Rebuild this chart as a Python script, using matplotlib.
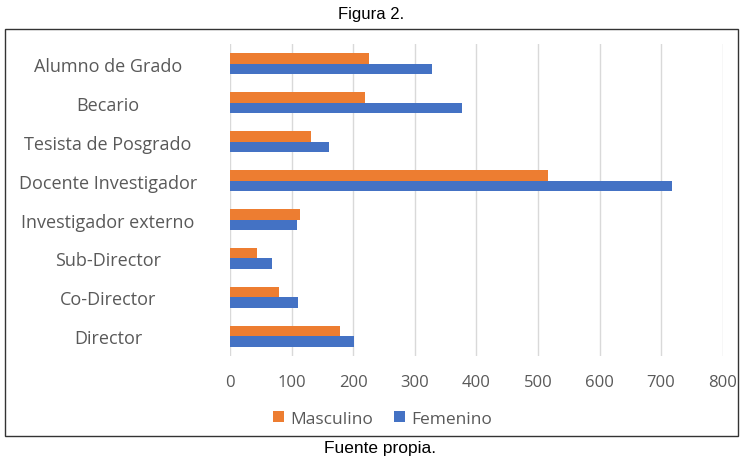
import numpy as np
import matplotlib
matplotlib.use('Agg')
import matplotlib.pyplot as plt
from matplotlib.patches import Rectangle

plt.rcParams['font.family'] = ['Open Sans', 'DejaVu Sans']

# datos por rol (de abajo hacia arriba)
categorias = ['Director', 'Co-Director', 'Sub-Director', 'Investigador externo',
              'Docente Investigador', 'Tesista de Posgrado', 'Becario', 'Alumno de Grado']
masculino = [179, 80, 43, 114, 517, 132, 219, 225]
femenino = [201, 110, 68, 108, 718, 160, 377, 328]
ticks_x = [0, 100, 200, 300, 400, 500, 600, 700, 800]

gris = '#595959'
fig = plt.figure(figsize=(7.42, 4.60), dpi=100)
ax = fig.add_axes([0.31, 0.224, 0.664, 0.678])

y = np.arange(len(categorias))
h = 0.26
ax.barh(y + h / 2, masculino, height=h, color='#ED7D31', label='Masculino', zorder=3)
ax.barh(y - h / 2, femenino, height=h, color='#4472C4', label='Femenino', zorder=3)

ax.set_xlim(0, 800)
ax.set_ylim(-0.5, len(categorias) - 0.5)
ax.set_xticks(ticks_x)
ax.set_yticks(y)
ax.set_yticklabels(categorias, ha='center')
ax.tick_params(length=0, colors=gris)
ax.tick_params(axis='y', pad=122 * 0.72, labelsize=13)
ax.tick_params(axis='x', pad=13, labelsize=12)
ax.grid(axis='x', color='#d9d9d9', linewidth=1, zorder=0)
for s in ax.spines.values():
    s.set_visible(False)

ax.legend(loc='upper center', bbox_to_anchor=(0.31, -0.125), ncol=2, frameon=False,
          fontsize=12.5, labelcolor=gris, handlelength=0.65, handleheight=0.65,
          handletextpad=0.35, columnspacing=1.2)

# marco de la figura
fig.patches.append(Rectangle((5 / 742, 1 - 437 / 460), 733 / 742, 407 / 460,
                             transform=fig.transFigure, fill=False,
                             edgecolor='#333333', linewidth=1))
fig.text(0.5, 1 - 15 / 460, 'Figura 2.', ha='center', va='center',
         fontsize=12, family=['Liberation Sans Narrow', 'Liberation Sans'])
fig.text(380 / 742, 1 - 449 / 460, 'Fuente propia.', ha='center', va='center',
         fontsize=12.5, family='Liberation Sans')

fig.savefig('out.png', dpi=100)
